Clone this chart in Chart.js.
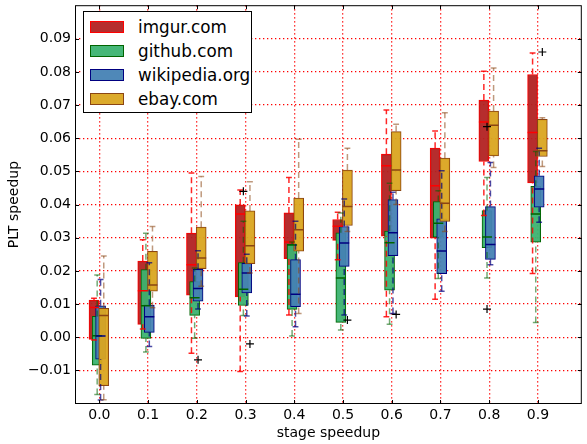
<!DOCTYPE html>
<html lang="en">
<head>
    <meta charset="UTF-8">
    <title>PLT speedup by stage speedup</title>
    <script src="https://cdn.jsdelivr.net/npm/chart.js@4"></script>
    <style>
        body {
            margin: 0;
            background-color: white;
            font-family: 'DejaVu Sans', sans-serif;
        }
        #wrap {
            position: relative;
            width: 587px;
            height: 444px;
        }
        #legend {
            position: absolute;
            left: 83px;
            top: 11px;
            width: 169px;
            height: 102px;
            box-sizing: border-box;
            border: 1px solid black;
            background: white;
        }
        .item {
            position: absolute;
            left: 6px;
            height: 24px;
            display: flex;
            align-items: center;
            font-size: 16.8px;
            color: black;
            white-space: nowrap;
        }
        .swatch {
            width: 34px;
            height: 12px;
            box-sizing: border-box;
            border: 1px solid;
            margin-right: 14px;
        }
    </style>
</head>
<body>
<div id="wrap">
    <canvas id="chart" width="587" height="444"></canvas>
    <div id="legend"></div>
</div>

<script>
    const stages = [0.0, 0.1, 0.2, 0.3, 0.4, 0.5, 0.6, 0.7, 0.8, 0.9];
    const sites = ['imgur.com', 'github.com', 'wikipedia.org', 'ebay.com'];
    const yTicks = [-0.01, 0.00, 0.01, 0.02, 0.03, 0.04, 0.05, 0.06, 0.07, 0.08, 0.09];

    // per stage: [low whisker, q1, median, q3, high whisker]
    const imgur = [
        [-0.0008, -0.0006, 0.0090, 0.0112, 0.0118],
        [0.0025, 0.0039, 0.0140, 0.0230, 0.0294],
        [-0.0048, 0.0127, 0.0219, 0.0314, 0.0495],
        [-0.0103, 0.0122, 0.0372, 0.0399, 0.0444],
        [0.0067, 0.0237, 0.0287, 0.0375, 0.0482],
        [0.0234, 0.0292, 0.0335, 0.0355, 0.0377],
        [0.0062, 0.0305, 0.0517, 0.0552, 0.0685],
        [0.0115, 0.0299, 0.0457, 0.0570, 0.0622],
        [0.0367, 0.0530, 0.0649, 0.0715, 0.0802],
        [0.0192, 0.0465, 0.0617, 0.0792, 0.0857]
    ];
    const github = [
        [-0.0172, -0.0084, 0.0005, 0.0063, 0.0188],
        [-0.0044, -0.0003, 0.0095, 0.0204, 0.0314],
        [-0.0003, 0.0066, 0.0119, 0.0168, 0.0209],
        [0.0066, 0.0096, 0.0145, 0.0225, 0.0350],
        [0.0004, 0.0084, 0.0278, 0.0280, 0.0287],
        [0.0022, 0.0045, 0.0179, 0.0315, 0.0375],
        [0.0039, 0.0142, 0.0285, 0.0320, 0.0464],
        [0.0177, 0.0302, 0.0344, 0.0409, 0.0442],
        [0.0179, 0.0270, 0.0302, 0.0382, 0.0482],
        [0.0045, 0.0287, 0.0372, 0.0455, 0.0560]
    ];
    const wikipedia = [
        [-0.0189, -0.0066, 0.0004, 0.0095, 0.0174],
        [-0.0028, 0.0015, 0.0062, 0.0097, 0.0225],
        [0.0085, 0.0109, 0.0147, 0.0205, 0.0261],
        [0.0064, 0.0134, 0.0194, 0.0223, 0.0250],
        [0.0032, 0.0092, 0.0130, 0.0234, 0.0350],
        [0.0067, 0.0214, 0.0284, 0.0334, 0.0417],
        [0.0072, 0.0246, 0.0315, 0.0415, 0.0437],
        [0.0139, 0.0192, 0.0260, 0.0357, 0.0502],
        [0.0219, 0.0235, 0.0280, 0.0394, 0.0527],
        [0.0347, 0.0392, 0.0447, 0.0487, 0.0570]
    ];
    const ebay = [
        [-0.0188, -0.0146, 0.0066, 0.0087, 0.0245],
        [0.0089, 0.0139, 0.0158, 0.0259, 0.0334],
        [0.0154, 0.0207, 0.0239, 0.0332, 0.0485],
        [0.0194, 0.0222, 0.0276, 0.0381, 0.0469],
        [0.0072, 0.0260, 0.0324, 0.0420, 0.0597],
        [0.0319, 0.0337, 0.0394, 0.0504, 0.0570],
        [0.0400, 0.0442, 0.0504, 0.0620, 0.0642],
        [0.0319, 0.0349, 0.0404, 0.0540, 0.0677],
        [0.0512, 0.0547, 0.0639, 0.0682, 0.0812],
        [0.0515, 0.0545, 0.0562, 0.0657, 0.0662]
    ];

    // outliers: [stage, value]
    const imgurOut = [];
    const githubOut = [[0.3, 0.0440], [0.8, 0.0635], [0.8, 0.0085]];
    const wikipediaOut = [[0.2, -0.0068]];
    const ebayOut = [[0.3, -0.0020], [0.5, 0.0052], [0.6, 0.0069], [0.9, 0.0860]];

    const boxHalf = 0.0102;   // half box width in x units (~5px)
    const capHalf = 0.006;
    const font = { family: 'DejaVu Sans', size: 14 };

    const series = [
        { label: sites[0], stats: imgur, out: imgurOut, shift: -0.011,
          fill: 'rgba(178,34,34,0.95)', edge: 'red', whisker: 'rgba(255,0,0,0.85)', median: 'red' },
        { label: sites[1], stats: github, out: githubOut, shift: -0.0045,
          fill: 'rgba(60,179,113,0.95)', edge: 'darkgreen', whisker: 'rgba(0,100,0,0.55)', median: 'darkgreen' },
        { label: sites[2], stats: wikipedia, out: wikipediaOut, shift: 0.0025,
          fill: 'rgba(70,130,180,0.95)', edge: 'navy', whisker: 'rgba(0,0,128,0.7)', median: 'navy' },
        { label: sites[3], stats: ebay, out: ebayOut, shift: 0.009,
          fill: 'rgba(218,165,32,0.95)', edge: 'saddlebrown', whisker: 'rgba(139,69,19,0.55)', median: 'saddlebrown' }
    ];

    // lower order is drawn on top: boxes first, then all lines, then fliers
    const datasets = [];
    const fliers = [];
    series.forEach((s, i) => {
        const whisk = [], caps = [], meds = [];
        stages.forEach((x, j) => {
            const [lo, q1, md, q3, hi] = s.stats[j];
            const cx = x + s.shift;
            whisk.push({x: cx, y: lo}, {x: cx, y: q1}, {x: cx, y: null},
                       {x: cx, y: q3}, {x: cx, y: hi}, {x: cx, y: null});
            caps.push({x: cx - capHalf, y: lo}, {x: cx + capHalf, y: lo}, {x: cx, y: null},
                      {x: cx - capHalf, y: hi}, {x: cx + capHalf, y: hi}, {x: cx, y: null});
            meds.push({x: cx - boxHalf, y: md}, {x: cx + boxHalf, y: md}, {x: cx, y: null});
        });
        s.out.forEach(o => fliers.push({x: o[0] + s.shift, y: o[1]}));

        datasets.push({
            type: 'bar',
            label: s.label,
            data: stages.map((x, j) => ({x: x + s.shift, y: [s.stats[j][1], s.stats[j][3]]})),
            backgroundColor: s.fill,
            borderColor: s.edge,
            borderWidth: 1,
            borderSkipped: false,
            barThickness: 10,
            grouped: false,
            order: 20 - i
        });
        const lineBase = { type: 'line', pointRadius: 0, spanGaps: false, fill: false, tension: 0, order: 10 - i };
        datasets.push(Object.assign({}, lineBase, { label: s.label + ' whiskers', data: whisk,
            borderColor: s.whisker, borderWidth: 1.5, borderDash: [6, 4] }));
        datasets.push(Object.assign({}, lineBase, { label: s.label + ' caps', data: caps,
            borderColor: s.whisker, borderWidth: 1.5 }));
        datasets.push(Object.assign({}, lineBase, { label: s.label + ' medians', data: meds,
            borderColor: s.median, borderWidth: 1.5 }));
    });
    datasets.push({
        type: 'scatter',
        label: 'outliers',
        data: fliers,
        pointStyle: 'cross',
        pointRadius: 4,
        borderColor: 'black',
        borderWidth: 1.2,
        order: 0
    });

    // frame and inward tick marks, like the matplotlib classic look
    const framePlugin = {
        id: 'frame',
        afterDraw(chart) {
            const ctx = chart.ctx;
            const a = chart.chartArea;
            const len = 4;
            ctx.save();
            ctx.strokeStyle = 'black';
            ctx.lineWidth = 1;
            ctx.beginPath();
            chart.scales.x.ticks.forEach(t => {
                const px = Math.round(chart.scales.x.getPixelForValue(t.value)) + 0.5;
                ctx.moveTo(px, a.bottom); ctx.lineTo(px, a.bottom - len);
                ctx.moveTo(px, a.top); ctx.lineTo(px, a.top + len);
            });
            chart.scales.y.ticks.forEach(t => {
                const py = Math.round(chart.scales.y.getPixelForValue(t.value)) + 0.5;
                ctx.moveTo(a.left, py); ctx.lineTo(a.left + len, py);
                ctx.moveTo(a.right, py); ctx.lineTo(a.right - len, py);
            });
            ctx.stroke();
            ctx.strokeRect(a.left + 0.5, a.top + 0.5, a.right - a.left - 1, a.bottom - a.top - 1);
            ctx.restore();
        }
    };

    new Chart(document.getElementById('chart').getContext('2d'), {
        type: 'bar',
        data: { datasets: datasets },
        options: {
            responsive: false,
            animation: false,
            layout: { padding: { top: 3, right: 1, left: 0, bottom: 0 } },
            plugins: {
                legend: { display: false },
                tooltip: { enabled: false }
            },
            scales: {
                x: {
                    type: 'linear',
                    min: -0.05,
                    max: 0.99,
                    offset: false,
                    z: 1,
                    afterBuildTicks: s => { s.ticks = stages.map(v => ({ value: v })); },
                    afterFit: s => { s.height = 40; s.paddingLeft = 0; s.paddingRight = 0; },
                    ticks: {
                        color: 'black',
                        font: font,
                        padding: 3,
                        maxRotation: 0,
                        autoSkip: false,
                        callback: v => v.toFixed(1)
                    },
                    grid: { color: '#ff0000', lineWidth: 1.3, drawTicks: false, offset: false },
                    border: { display: false, dash: [1.3, 2.7] },
                    title: { display: true, text: 'stage speedup', color: 'black', font: font,
                             padding: { top: 0, bottom: 2 } }
                },
                y: {
                    type: 'linear',
                    min: -0.0201,
                    max: 0.1001,
                    z: 1,
                    afterBuildTicks: s => { s.ticks = yTicks.map(v => ({ value: v })); },
                    afterFit: s => { s.width = 75; s.paddingTop = 0; s.paddingBottom = 0; },
                    ticks: {
                        color: 'black',
                        font: font,
                        padding: 4,
                        autoSkip: false,
                        callback: v => (v < -1e-9 ? '\u2212' : '') + Math.abs(v).toFixed(2)
                    },
                    grid: { color: '#ff0000', lineWidth: 1.3, drawTicks: false, offset: false },
                    border: { display: false, dash: [1.3, 2.7] },
                    title: { display: true, text: 'PLT speedup', color: 'black', font: font,
                             padding: { top: 6, bottom: 0 } }
                }
            }
        },
        plugins: [framePlugin]
    });

    // legend box drawn in the upper left of the plot
    const legend = document.getElementById('legend');
    series.forEach((s, i) => {
        const row = document.createElement('div');
        row.className = 'item';
        row.style.top = (3 + i * 24) + 'px';
        const sw = document.createElement('span');
        sw.className = 'swatch';
        sw.style.background = s.fill;
        sw.style.borderColor = s.edge;
        const txt = document.createElement('span');
        txt.textContent = s.label;
        row.appendChild(sw);
        row.appendChild(txt);
        legend.appendChild(row);
    });
</script>
</body>
</html>
